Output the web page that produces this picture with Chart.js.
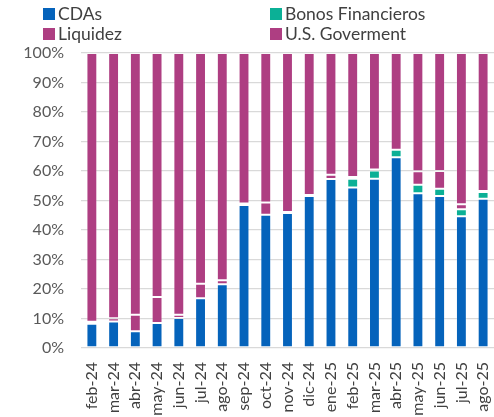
<!DOCTYPE html>
<html>
<head>
<meta charset="utf-8">
<script src="https://cdn.jsdelivr.net/npm/chart.js@4"></script>
<style>
html,body{margin:0;padding:0;background:#fff;overflow:hidden;}
#wrap{position:relative;width:494px;height:417px;}
#legend{position:absolute;left:0;top:0;width:494px;height:46px;font-family:Lato,sans-serif;font-size:17.5px;color:#404040;}
.item{position:absolute;display:flex;align-items:center;white-space:nowrap;line-height:20px;}
.box{width:12px;height:12px;margin-right:3px;}
</style>
</head>
<body>
<div id="wrap">
<canvas id="c" width="494" height="417"></canvas>
<div id="legend"></div>
</div>
<script>
const categories = ["feb-24","mar-24","abr-24","may-24","jun-24","jul-24","ago-24","sep-24","oct-24","nov-24","dic-24","ene-25","feb-25","mar-25","abr-25","may-25","jun-25","jul-25","ago-25"];
const cdas      = [8.2, 9.0, 5.7, 8.5, 10.2, 16.9, 21.6, 48.5, 45.2, 45.8, 51.5, 57.3, 54.4, 57.4, 64.7, 52.5, 51.5, 44.7, 50.6];
const bonos     = [0, 0, 0, 0, 0, 0, 0, 0, 0, 0, 0, 0, 3.0, 2.8, 2.5, 2.8, 2.5, 2.3, 2.3];
const liquidez  = [0.7, 1.1, 5.6, 8.8, 1.1, 4.9, 1.4, 0.5, 4.1, 0.3, 0.4, 1.4, 0.6, 0.3, 0.0, 4.6, 6.0, 1.7, 0.3];
const usGov     = categories.map((_, i) => +(100 - cdas[i] - bonos[i] - liquidez[i]).toFixed(1));
const yTicks    = [0,10,20,30,40,50,60,70,80,90,100];
const seriesNames = ["CDAs","Bonos Financieros","Liquidez","U.S. Goverment"];
const colors = ["#0563BB","#0BB096","#AE3E82","#AE3E82"];

const seriesData = [cdas, bonos, liquidez, usGov];
const datasets = seriesNames.map((n, i) => ({
  label: n,
  data: seriesData[i],
  backgroundColor: colors[i],
  borderColor: "rgba(255,255,255,0.2)",
  borderWidth: 1,
  borderSkipped: false,
  categoryPercentage: 1,
  barPercentage: 0.5
}));

// HTML legend (two columns)
const legendPos = [[43,4],[270,4],[43,24],[270,24]];
const leg = document.getElementById('legend');
seriesNames.forEach((n,i)=>{
  const d=document.createElement('div');
  d.className='item';
  d.style.left=legendPos[i][0]+'px';
  d.style.top=legendPos[i][1]+'px';
  d.innerHTML='<span class="box" style="background:'+colors[i]+'"></span><span>'+n+'</span>';
  leg.appendChild(d);
});

new Chart(document.getElementById('c'), {
  type: 'bar',
  data: { labels: categories, datasets },
  options: {
    responsive: false,
    animation: false,
    layout: { padding: { top: 53, right: 0, left: 0, bottom: 0 } },
    plugins: { legend: { display: false }, tooltip: { enabled: false } },
    scales: {
      x: {
        stacked: true,
        grid: { display: false, drawTicks: false },
        border: { display: false },
        ticks: {
          minRotation: 90, maxRotation: 90, autoSkip: false,
          padding: 14,
          color: '#404040',
          font: { family: 'Lato', size: 16 }
        },
        afterFit: s => { s.height = 69; s.paddingLeft = 0; s.paddingRight = 0; }
      },
      y: {
        stacked: true,
        min: 0, max: 100,
        afterBuildTicks: s => { s.ticks = yTicks.map(v => ({ value: v })); },
        grid: { color: '#D9D9D9', lineWidth: 1.3, drawTicks: false },
        border: { display: false },
        ticks: {
          padding: 17,
          color: '#595959',
          font: { family: 'Lato', size: 16 },
          callback: v => v + '%'
        },
        afterFit: s => { s.width = 81; s.paddingTop = 0; s.paddingBottom = 0; }
      }
    }
  }
});
</script>
</body>
</html>
